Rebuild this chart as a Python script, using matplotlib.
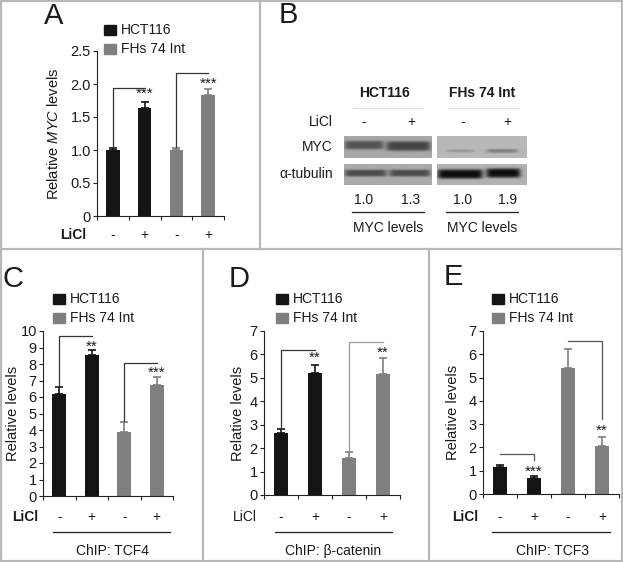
import numpy as np
import matplotlib
matplotlib.use('Agg')
import matplotlib.pyplot as plt
from matplotlib import transforms
from matplotlib.lines import Line2D
from matplotlib.patches import Rectangle

plt.rcParams['font.family'] = ['Liberation Sans', 'DejaVu Sans']
plt.rcParams['mathtext.fontset'] = 'custom'
plt.rcParams['mathtext.rm'] = 'Liberation Sans'
plt.rcParams['mathtext.it'] = 'Liberation Sans:italic'

W, H = 623, 562
BLACK = '#141414'
GRAY = '#7f7f7f'
TXT = '#1a1a1a'

# ---- data ----
licl = ['-', '+', '-', '+']
bar_colors = [BLACK, BLACK, GRAY, GRAY]
legend_labels = ['HCT116', 'FHs 74 Int']

# A: relative MYC mRNA
a_values = [1.0, 1.64, 1.0, 1.84]
a_errors = [0.03, 0.08, 0.03, 0.09]
a_ticks = [0, 0.5, 1.0, 1.5, 2.0, 2.5]
a_ticklabels = ['0', '0.5', '1.0', '1.5', '2.0', '2.5']
a_brackets = [[(0, 1.05), (0, 1.94), (1, 1.94)], [(2, 1.05), (2, 2.16), (3, 2.16)]]
a_stars = [(1, 1.88, '***'), (3, 2.03, '***')]

# C: ChIP TCF4
c_values = [6.2, 8.52, 3.85, 6.7]
c_errors = [0.42, 0.35, 0.62, 0.52]
c_ticks = list(range(11))
c_brackets = [[(0, 6.7), (0, 9.68), (1, 9.68)], [(2, 4.55), (2, 8.08), (3, 8.08)]]
c_stars = [(1, 9.2, '**'), (3, 7.6, '***')]

# D: ChIP beta-catenin
d_values = [2.63, 5.2, 1.57, 5.15]
d_errors = [0.17, 0.37, 0.25, 0.7]
d_ticks = list(range(8))
d_brackets = [[(0, 2.9), (0, 6.2), (1, 6.2)], [(2, 1.9), (2, 6.53), (3, 6.53)]]
d_stars = [(1, 5.93, '**'), (3, 6.18, '**')]

# E: ChIP TCF3
e_values = [1.18, 0.68, 5.43, 2.08]
e_errors = [0.08, 0.08, 0.8, 0.38]
e_ticks = list(range(8))
e_brackets = [[(0, 1.72), (1, 1.72), (1, 1.46)], [(2, 6.58), (3, 6.58), (3, 3.2)]]
e_stars = [(1, 1.03, '***'), (3, 2.81, '**')]

# B: western blot quantification
blot_lanes = ['-', '+', '-', '+']
myc_levels = ['1.0', '1.3', '1.0', '1.9']

fig = plt.figure(figsize=(W / 100, H / 100), dpi=100)


def fx(x):
    return x / W


def fy(y):
    return 1 - y / H


def box(l, t, r, b):
    return [fx(l), fy(b), (r - l) / W, (b - t) / H]


def ptext(x, y, s, **kw):
    kw.setdefault('color', TXT)
    fig.text(fx(x), fy(y), s, **kw)


def hline(x0, x1, y, color='#222222', lw=0.9):
    fig.add_artist(Line2D([fx(x0), fx(x1)], [fy(y), fy(y)], color=color, lw=lw))


def vline(x, y0, y1, color='#222222', lw=0.9):
    fig.add_artist(Line2D([fx(x), fx(x)], [fy(y0), fy(y1)], color=color, lw=lw))


def legend(x, y):
    for i, (lab, col) in enumerate(zip(legend_labels, [BLACK, GRAY])):
        yy = y + i * 19
        fig.add_artist(Rectangle((fx(x), fy(yy + 10)), 12 / W, 10 / H, color=col,
                                 transform=fig.transFigure))
        ptext(x + 17, yy + 5, lab, fontsize=10, va='center')


def bar_panel(rect, values, errors, ticks, ticklabels, ymax, brackets, stars,
              ylabel, ylabel_x, licl_x, licl_y, bracket_colors=None, licl_weight='bold'):
    l, t, r, b = rect
    ax = fig.add_axes(box(l, t, r, b))
    x = np.arange(len(values))
    ax.bar(x, values, width=0.42, color=bar_colors, zorder=2)
    for xi, v, e, c in zip(x, values, errors, bar_colors):
        ax.errorbar(xi, v, yerr=[[0], [e]], fmt='none', ecolor=c, elinewidth=1.2,
                    capsize=2.6, capthick=1.2, zorder=3)
    ax.set_xlim(-0.5, len(values) - 0.5)
    ax.set_ylim(0, ymax)
    ax.set_yticks(ticks)
    ax.set_yticklabels(ticklabels if ticklabels else [str(tk) for tk in ticks])
    ax.set_xticks(np.arange(len(values) + 1) - 0.5)
    ax.set_xticklabels([])
    for s in ['top', 'right']:
        ax.spines[s].set_visible(False)
    for s in ['left', 'bottom']:
        ax.spines[s].set_color('#222222')
        ax.spines[s].set_linewidth(0.8)
    ax.tick_params(axis='both', direction='out', length=3, width=0.8, color='#222222',
                   labelsize=10.5, labelcolor=TXT, pad=1.5)
    ax.patch.set_alpha(0)
    for i, seg in enumerate(brackets):
        xs, ys = zip(*seg)
        col = '#333333'
        if bracket_colors is not None:
            col = bracket_colors[i]
        ax.plot(xs, ys, color=col, lw=0.9, clip_on=False, zorder=4)
    off = transforms.offset_copy(ax.transData, fig=fig, y=-1.5, units='points')
    for sx, sy, s in stars:
        ax.text(sx, sy, s, transform=off, ha='center', va='center', fontsize=11, color=TXT)
    # y label
    ptext(ylabel_x, (t + b) / 2, ylabel, rotation=90, ha='center', va='center', fontsize=10.5)
    # LiCl row
    row = transforms.blended_transform_factory(ax.transData, fig.transFigure)
    for xi, sgn in zip(x, licl):
        ax.text(xi, fy(licl_y), sgn, transform=row, ha='center', va='center',
                fontsize=10, color=TXT)
    ptext(licl_x, licl_y, 'LiCl', ha='center', va='center', fontsize=10, weight=licl_weight)
    return ax


# panel A
bar_panel((97, 51, 224, 216), a_values, a_errors, a_ticks, a_ticklabels, 2.5,
          a_brackets, a_stars, 'Relative $\\mathit{MYC}$ levels', 54, 73, 235)
legend(104, 25)
ptext(44, 16, 'A', fontsize=21, va='center')

# panel C
bar_panel((43, 331, 173, 496), c_values, c_errors, c_ticks, None, 10,
          c_brackets, c_stars, 'Relative levels', 13, 25, 517)
legend(53, 294)
hline(53, 170, 532)
ptext(113, 551, 'ChIP: TCF4', ha='center', va='center', fontsize=10)
ptext(2, 279, 'C', fontsize=21, va='center')

# panel D
bar_panel((264, 331, 400, 495), d_values, d_errors, d_ticks, None, 7,
          d_brackets, d_stars, 'Relative levels', 238, 245, 517,
          bracket_colors=['#333333', '#9a9a9a'], licl_weight='normal')
legend(276, 294)
hline(275, 392, 532)
ptext(333, 551, 'ChIP: \u03b2-catenin', ha='center', va='center', fontsize=10)
ptext(229, 279, 'D', fontsize=21, va='center')

# panel E
bar_panel((483, 331, 619, 494), e_values, e_errors, e_ticks, None, 7,
          e_brackets, e_stars, 'Relative levels', 453, 465, 517,
          bracket_colors=['#555555', '#555555'])
legend(492, 294)
hline(492, 610, 532)
ptext(552, 551, 'ChIP: TCF3', ha='center', va='center', fontsize=10)
ptext(444, 277, 'E', fontsize=21, va='center')

# panel B: western blot
ptext(279, 15, 'B', fontsize=21, va='center')
ptext(384, 93, 'HCT116', ha='center', va='center', fontsize=10, weight='bold')
ptext(482, 93, 'FHs 74 Int', ha='center', va='center', fontsize=10, weight='bold')
hline(353, 423, 108, color='#e0e0e0')
hline(448, 519, 108, color='#e0e0e0')
ptext(333, 122, 'LiCl', ha='right', va='center', fontsize=10)
ptext(333, 147, 'MYC', ha='right', va='center', fontsize=10)
ptext(333, 174, '\u03b1-tubulin', ha='right', va='center', fontsize=10)
lane_x = [364, 411, 463, 507]
for lx, sgn, lev in zip(lane_x, blot_lanes, myc_levels):
    ptext(lx, 122, sgn, ha='center', va='center', fontsize=10)
    ptext(lx, 200, lev, ha='center', va='center', fontsize=10)
hline(352, 424, 212)
hline(446, 518, 212)
ptext(388, 228, 'MYC levels', ha='center', va='center', fontsize=10)
ptext(482, 228, 'MYC levels', ha='center', va='center', fontsize=10)

# blot strips: (box, background, bands as (x0, x1, y centre, half height, darkness))
strips = [
    ((344, 136, 432, 158), 168, [(345, 383, 145, 4.5, 85), (387, 430, 146, 5, 100)]),
    ((437, 136, 527, 158), 184, [(447, 474, 151, 1.6, 30), (487, 517, 151, 2.0, 55)]),
    ((344, 164, 432, 185), 170, [(345, 386, 173, 3.6, 95), (390, 430, 173, 3.6, 95)]),
    ((437, 164, 527, 185), 178, [(438, 482, 174, 4.8, 165), (487, 520, 173, 4.8, 165)]),
]
for (l, t, r, b), bg, bands in strips:
    xs = np.linspace(l, r, 180)
    ys = np.linspace(t, b, 50)
    X, Y = np.meshgrid(xs, ys)
    img = np.full(X.shape, float(bg))
    for x0, x1, yc, hh, dark in bands:
        across = 1 / (1 + np.exp(-(X - x0) / 1.5)) / (1 + np.exp((X - x1) / 1.5))
        img -= dark * across * np.exp(-((Y - yc) / hh) ** 4)
    bax = fig.add_axes(box(l, t, r, b))
    bax.imshow(img, cmap='gray', vmin=0, vmax=255, aspect='auto',
               extent=(l, r, b, t), interpolation='bilinear')
    bax.axis('off')

# panel borders
BORDER = '#b8b8b8'
hline(0, W, 0.7, color=BORDER, lw=1.6)
hline(0, W, H - 0.7, color=BORDER, lw=1.6)
vline(0.7, 0, H, color=BORDER, lw=1.6)
vline(W - 0.7, 0, H, color=BORDER, lw=1.6)
hline(0, W, 249, color=BORDER, lw=1.6)
vline(260, 0, 249, color=BORDER, lw=1.6)
vline(203, 249, H, color=BORDER, lw=1.6)
vline(429, 249, H, color=BORDER, lw=1.6)

fig.savefig('out.png', dpi=100)
